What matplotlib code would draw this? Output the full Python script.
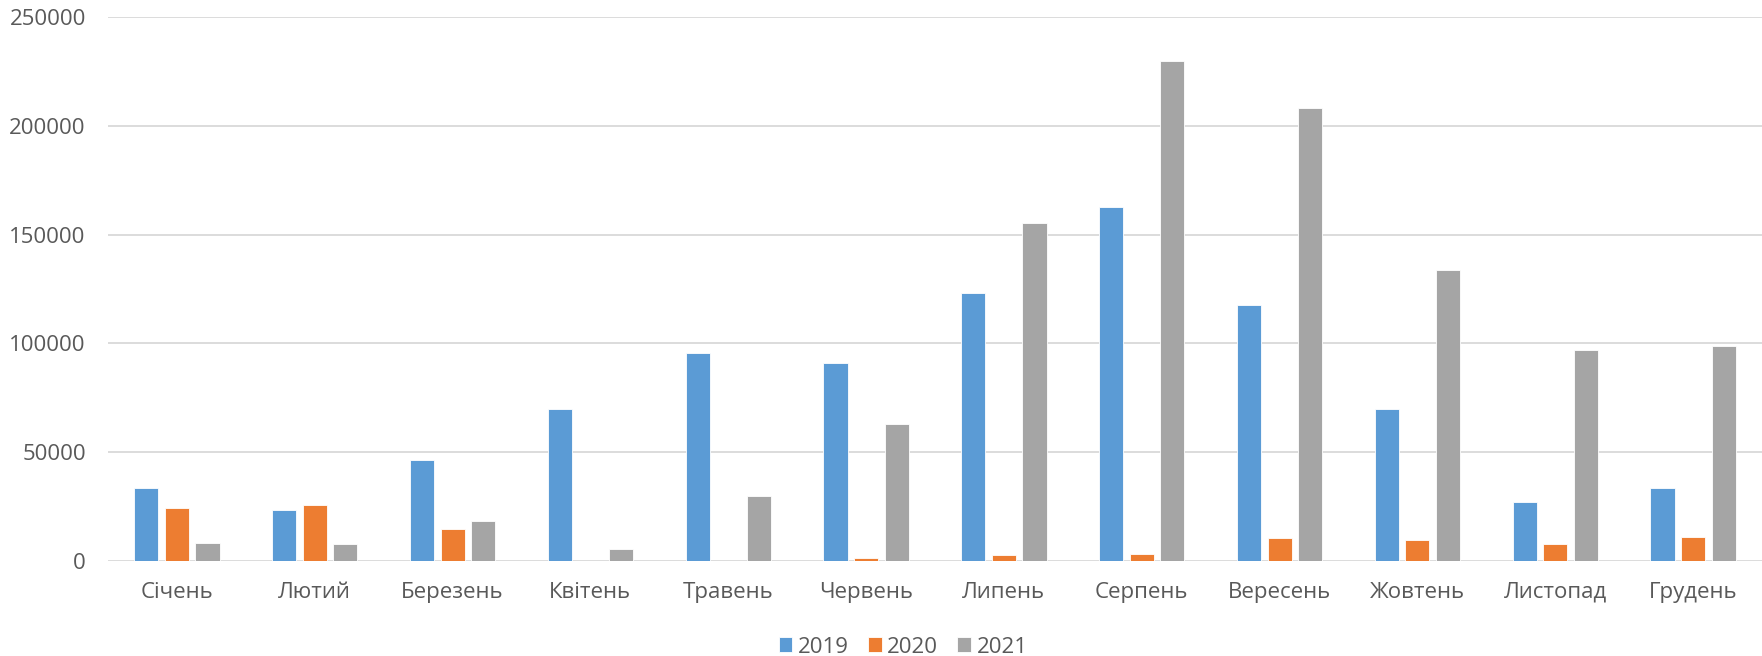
import numpy as np
import matplotlib.pyplot as plt

plt.rcParams['font.family'] = ['Open Sans', 'DejaVu Sans']

months = ["Січень", "Лютий", "Березень", "Квітень", "Травень", "Червень",
          "Липень", "Серпень", "Вересень", "Жовтень", "Листопад", "Грудень"]
years = ["2019", "2020", "2021"]
y2019 = [33200, 23400, 46200, 69800, 95700, 91000, 123000, 162600, 117800, 69800, 27000, 33300]
y2020 = [24400, 25800, 14500, 0, 0, 1200, 2500, 2900, 10500, 9500, 7500, 10800]
y2021 = [8000, 7800, 18200, 5600, 29900, 62900, 155100, 229900, 208000, 133800, 96700, 98700]

colors = ["#5B9BD5", "#ED7D31", "#A5A5A5"]
txt = "#595959"

fig = plt.figure(figsize=(17.62, 6.56), dpi=100)
ax = fig.add_axes([0.0613, 0.1453, 0.9387, 0.8287])

x = np.arange(len(months))
w = 0.175
step = 0.222
for i, (vals, c, lab) in enumerate(zip([y2019, y2020, y2021], colors, years)):
    ax.bar(x + (i - 1) * step, vals, width=w, color=c, label=lab,
           edgecolor="white", linewidth=0.6, zorder=3)

ax.set_xlim(-0.5, len(months) - 0.5)
ax.set_ylim(0, 250000)
ax.set_yticks(range(0, 250001, 50000))
ax.set_xticks(x)
ax.set_xticklabels(months)
ax.grid(axis="y", color="#D9D9D9", linewidth=1.3, zorder=0)
for s in ax.spines.values():
    s.set_visible(False)
ax.tick_params(axis="both", length=0, labelsize=16, labelcolor=txt)
ax.tick_params(axis="y", pad=16)
ax.tick_params(axis="x", pad=15)

handles, labels = ax.get_legend_handles_labels()
fig.legend(handles, labels, loc="center", bbox_to_anchor=(0.5125, 0.0137),
           ncol=3, frameon=False, fontsize=16, labelcolor=txt,
           handlelength=0.62, handleheight=0.62, handletextpad=0.25,
           columnspacing=0.85, borderpad=0)

fig.savefig("out.png", dpi=100)
